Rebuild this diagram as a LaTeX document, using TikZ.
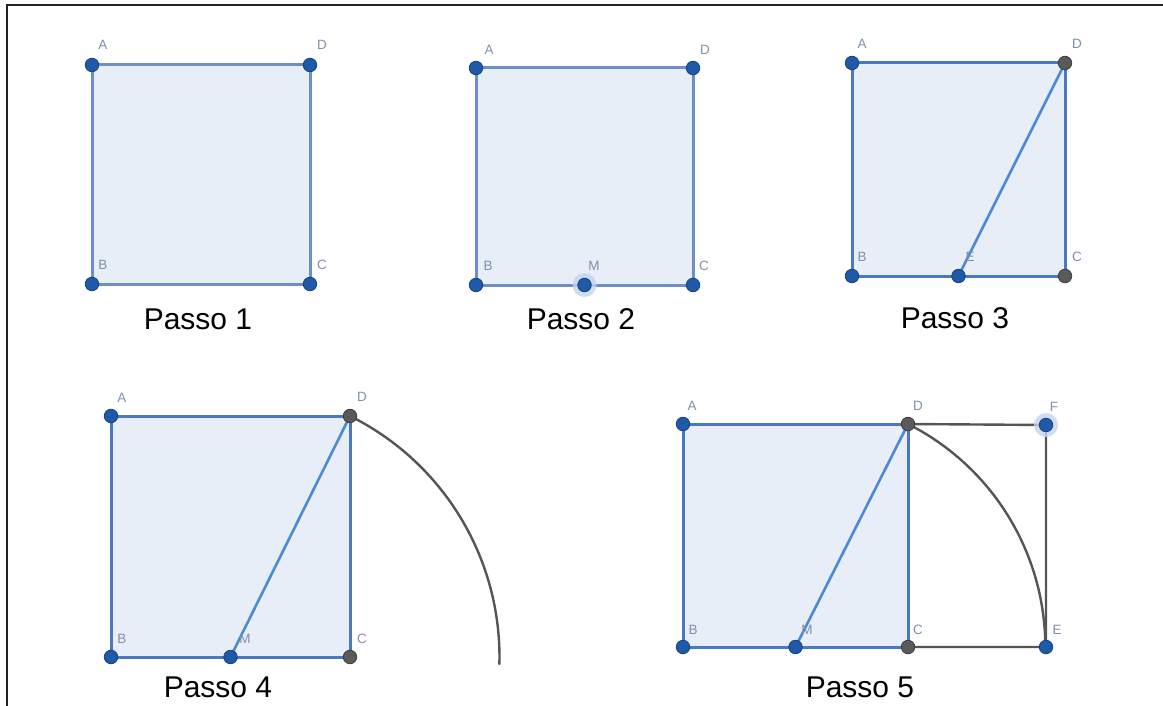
\documentclass[tikz,border=0pt]{standalone}
\usepackage{fontspec}
\setmainfont{Liberation Sans}
\definecolor{sqbg}{HTML}{E7EEF8}
\definecolor{edgeblue}{HTML}{4A78C2}
\definecolor{edgelight}{HTML}{6C8FC4}
\definecolor{diagblue}{HTML}{4C8AD2}
\definecolor{ptblue}{HTML}{1F5AA8}
\definecolor{ptborder}{HTML}{17427E}
\definecolor{ptgray}{HTML}{5A5A5A}
\definecolor{ptgrayborder}{HTML}{3E3E3E}
\definecolor{lngray}{HTML}{555555}
\definecolor{lblcol}{HTML}{8090AA}
\definecolor{halocol}{HTML}{C3D4EE}
\definecolor{framecol}{HTML}{222222}
\tikzset{
  sqfill/.style={fill=sqbg},
  edge/.style={draw=edgeblue, line width=3pt, line cap=round},
  edgel/.style={draw=edgelight, line width=3pt, line cap=round},
  diag/.style={draw=diagblue, line width=2.6pt, line cap=round},
  grayln/.style={draw=lngray, line width=2.4pt, line cap=round},
  dotb/.style={circle, fill=ptblue, draw=ptborder, line width=0.8pt, minimum size=13.5pt, inner sep=0pt},
  dotg/.style={circle, fill=ptgray, draw=ptgrayborder, line width=0.8pt, minimum size=13.5pt, inner sep=0pt},
  halo/.style={circle, fill=halocol, opacity=0.8, minimum size=24pt, inner sep=0pt},
  lbl/.style={font=\fontsize{13.5}{13.5}\selectfont, text=lblcol, inner sep=0pt},
  steplbl/.style={font=\fontsize{30}{30}\selectfont, text=black, anchor=base, inner sep=0pt},
  framel/.style={draw=framecol, line width=2pt}
}
\begin{document}
\begin{tikzpicture}[x=1pt,y=-1pt]
\useasboundingbox (0,0) rectangle (1163,706);
% frame
\coordinate (fr1) at (7,706);
\coordinate (fr2) at (7,5);
\coordinate (fr3) at (1163,5);
\draw[framel] (fr1) -- (fr2) -- (fr3);

% ---------- Passo 1 ----------
\coordinate (A1) at (92,65);
\coordinate (D1) at (310,65);
\coordinate (B1) at (92,284);
\coordinate (C1) at (310,284);
\fill[sqfill] (A1) -- (D1) -- (C1) -- (B1) -- cycle;
\draw[edgel] (A1) -- (D1) -- (C1) -- (B1) -- cycle;
\node[dotb] (pA1) at (A1) {};
\node[dotb] (pD1) at (D1) {};
\node[dotb] (pB1) at (B1) {};
\node[dotb] (pC1) at (C1) {};
\node[lbl] (lA1) at (103,45) {A};
\node[lbl] (lD1) at (322,45) {D};
\node[lbl] (lB1) at (103,265) {B};
\node[lbl] (lC1) at (322,265) {C};
\node[steplbl] (t1) at (198,329) {Passo 1};

% ---------- Passo 2 ----------
\coordinate (A2) at (476,68);
\coordinate (D2) at (693,68);
\coordinate (B2) at (476,285);
\coordinate (C2) at (693,285);
\coordinate (M2) at (584.5,285);
\fill[sqfill] (A2) -- (D2) -- (C2) -- (B2) -- cycle;
\draw[edgel] (A2) -- (D2) -- (C2) -- (B2) -- cycle;
\node[halo] (hM2) at (M2) {};
\node[dotb] (pA2) at (A2) {};
\node[dotb] (pD2) at (D2) {};
\node[dotb] (pB2) at (B2) {};
\node[dotb] (pC2) at (C2) {};
\node[dotb] (pM2) at (M2) {};
\node[lbl] (lA2) at (489,50) {A};
\node[lbl] (lD2) at (705,50) {D};
\node[lbl] (lB2) at (488,266) {B};
\node[lbl] (lM2) at (594,266) {M};
\node[lbl] (lC2) at (704,266) {C};
\node[steplbl] (t2) at (581,329) {Passo 2};

% ---------- Passo 3 ----------
\coordinate (A3) at (852,63);
\coordinate (D3) at (1065,63);
\coordinate (B3) at (852,276);
\coordinate (C3) at (1065,276);
\coordinate (E3) at (958.5,276);
\fill[sqfill] (A3) -- (D3) -- (C3) -- (B3) -- cycle;
\draw[edge] (A3) -- (D3) -- (C3) -- (B3) -- cycle;
\draw[diag] (E3) -- (D3);
\node[dotb] (pA3) at (A3) {};
\node[dotg] (pD3) at (D3) {};
\node[dotb] (pB3) at (B3) {};
\node[dotg] (pC3) at (C3) {};
\node[dotb] (pE3) at (E3) {};
\node[lbl] (lA3) at (862,44) {A};
\node[lbl] (lD3) at (1077,44) {D};
\node[lbl] (lB3) at (862,257) {B};
\node[lbl] (lE3) at (970,257) {E};
\node[lbl] (lC3) at (1077,257) {C};
\node[steplbl] (t3) at (955,328) {Passo 3};

% ---------- Passo 4 ----------
\coordinate (A4) at (111,416);
\coordinate (D4) at (350,416);
\coordinate (B4) at (111,657);
\coordinate (C4) at (350,657);
\coordinate (M4) at (230.5,657);
\fill[sqfill] (A4) -- (D4) -- (C4) -- (B4) -- cycle;
\draw[grayln] (D4) arc[start angle=-63.62, end angle=1.5, radius=269];
\draw[edge] (A4) -- (D4) -- (C4) -- (B4) -- cycle;
\draw[diag] (M4) -- (D4);
\node[dotb] (pA4) at (A4) {};
\node[dotg] (pD4) at (D4) {};
\node[dotb] (pB4) at (B4) {};
\node[dotg] (pC4) at (C4) {};
\node[dotb] (pM4) at (M4) {};
\node[lbl] (lA4) at (122,398) {A};
\node[lbl] (lD4) at (362,397) {D};
\node[lbl] (lB4) at (122,639) {B};
\node[lbl] (lM4) at (245,639) {M};
\node[lbl] (lC4) at (362,639) {C};
\node[steplbl] (t4) at (218,697) {Passo 4};

% ---------- Passo 5 ----------
\coordinate (A5) at (683,424);
\coordinate (D5) at (908,424);
\coordinate (B5) at (683,647);
\coordinate (C5) at (908,647);
\coordinate (M5) at (795.5,647);
\coordinate (E5) at (1046,647);
\coordinate (F5) at (1046,425);
\fill[sqfill] (A5) -- (D5) -- (C5) -- (B5) -- cycle;
\draw[grayln] (D5) -- (F5) -- (E5) -- (C5);
\draw[grayln] (D5) arc[start angle=-63.23, end angle=0, radius=249.8];
\draw[edge] (A5) -- (D5) -- (C5) -- (B5) -- cycle;
\draw[diag] (M5) -- (D5);
\node[halo] (hF5) at (F5) {};
\node[dotb] (pA5) at (A5) {};
\node[dotg] (pD5) at (D5) {};
\node[dotb] (pB5) at (B5) {};
\node[dotg] (pC5) at (C5) {};
\node[dotb] (pM5) at (M5) {};
\node[dotb] (pE5) at (E5) {};
\node[dotb] (pF5) at (F5) {};
\node[lbl] (lA5) at (692,406) {A};
\node[lbl] (lD5) at (918,406) {D};
\node[lbl] (lF5) at (1054,407) {F};
\node[lbl] (lB5) at (693,630) {B};
\node[lbl] (lM5) at (807,630) {M};
\node[lbl] (lC5) at (918,630) {C};
\node[lbl] (lE5) at (1057,630) {E};
\node[steplbl] (t5) at (860,697) {Passo 5};
\end{tikzpicture}
\end{document}
